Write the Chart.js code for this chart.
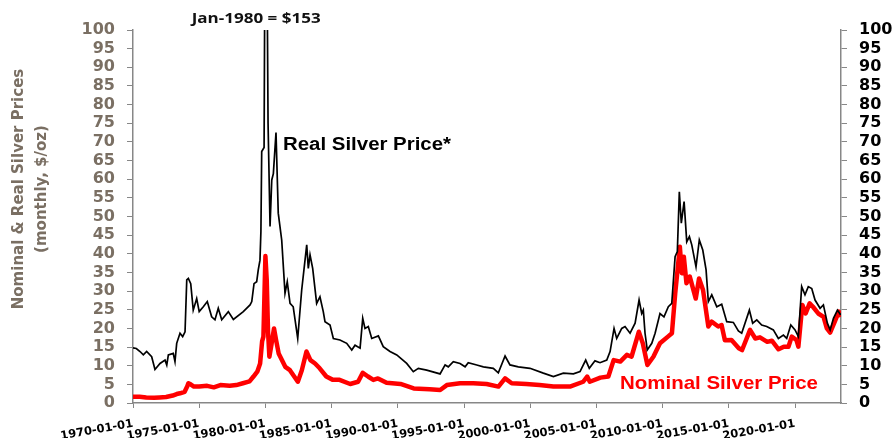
<!DOCTYPE html>
<html>
<head>
<meta charset="utf-8">
<script src="https://cdn.jsdelivr.net/npm/chart.js@4.4.1/dist/chart.umd.min.js"></script>
<style>
  html, body { margin: 0; padding: 0; background: #fff; }
</style>
</head>
<body>
<canvas id="silver" width="896" height="438"></canvas>
<script>
// monthly silver prices, $/oz (decimal years)
const realYears = [
  1970.0, 1970.25, 1970.53, 1970.78, 1971.03, 1971.41, 1971.66, 1971.8, 1972.04, 1972.42,
  1972.55, 1972.67, 1973.04, 1973.17, 1973.3, 1973.55, 1973.75, 1973.93, 1974.06, 1974.18,
  1974.36, 1974.55, 1974.81, 1975.0, 1975.31, 1975.61, 1975.94, 1976.19, 1976.44, 1976.7,
  1977.2, 1977.58, 1978.33, 1978.84, 1978.97, 1979.14, 1979.34, 1979.46, 1979.59, 1979.66,
  1979.72, 1979.9, 1980.0, 1980.1, 1980.2, 1980.35, 1980.48, 1980.6, 1980.8, 1980.97,
  1981.23, 1981.48, 1981.65, 1981.86, 1982.1, 1982.44, 1982.74, 1983.12, 1983.24, 1983.37,
  1983.57, 1983.87, 1984.12, 1984.37, 1984.5, 1984.88, 1985.13, 1985.63, 1986.14, 1986.52,
  1986.77, 1987.15, 1987.35, 1987.52, 1987.77, 1988.03, 1988.53, 1988.9, 1989.41, 1989.92,
  1990.67, 1991.17, 1991.55, 1992.18, 1993.19, 1993.57, 1993.81, 1994.19, 1994.7, 1995.08,
  1995.32, 1995.96, 1996.46, 1997.21, 1997.59, 1998.1, 1998.47, 1999.1, 1999.98, 2000.99,
  2001.75, 2002.5, 2003.26, 2003.76, 2004.19, 2004.46, 2004.89, 2005.27, 2005.78, 2006.03,
  2006.33, 2006.53, 2006.91, 2007.16, 2007.54, 2007.92, 2008.22, 2008.42, 2008.54, 2008.67,
  2008.84, 2009.18, 2009.43, 2009.8, 2010.1, 2010.43, 2010.69, 2010.94, 2011.11, 2011.26,
  2011.41, 2011.62, 2011.82, 2012.02, 2012.2, 2012.52, 2012.77, 2013.03, 2013.28, 2013.45,
  2013.71, 2014.09, 2014.46, 2014.84, 2015.34, 2015.72, 2015.97, 2016.55, 2016.8, 2017.11,
  2017.48, 2017.86, 2018.36, 2018.74, 2019.12, 2019.37, 2019.68, 2020.0, 2020.25, 2020.5,
  2020.75, 2021.0, 2021.26, 2021.51, 2021.89, 2022.14, 2022.44, 2022.65, 2022.9, 2023.2,
  2023.45
];
const realPrices = [
  14.8, 14.6, 13.8, 12.9, 13.8, 12.4, 9.0, 9.6, 10.6, 11.5,
  10.2, 12.9, 13.3, 11.1, 16.0, 18.7, 17.8, 19.1, 33.0, 33.4,
  32.0, 24.9, 28.0, 24.5, 25.8, 27.2, 23.1, 22.3, 25.4, 22.3,
  24.5, 22.4, 24.5, 26.3, 27.2, 32.0, 32.5, 35.7, 38.3, 46.0,
  67.4, 68.5, 153, 130, 75, 47.3, 59.8, 61.5, 72.5, 50.9,
  43.7, 29.4, 32.5, 26.7, 25.8, 17.3, 30.3, 42.4, 36.1, 39.7,
  36.1, 26.7, 28.5, 24.5, 21.8, 20.9, 17.3, 16.9, 16.0, 14.2,
  15.5, 14.7, 22.7, 20.0, 20.5, 17.3, 18.0, 15.1, 13.8, 12.9,
  10.6, 8.4, 9.3, 8.8, 7.8, 10.2, 9.7, 11.1, 10.6, 9.7,
  10.8, 10.2, 9.7, 9.3, 8.1, 12.6, 10.2, 9.7, 9.3, 8.0,
  7.1, 8.0, 7.8, 8.4, 11.5, 9.3, 11.3, 10.8, 11.5, 13.8,
  20.0, 17.3, 20.0, 20.5, 18.7, 21.4, 27.6, 24.0, 24.9, 18.7,
  14.2, 16.0, 18.7, 24.0, 23.1, 25.8, 26.7, 39.2, 40.6, 56.6,
  48.2, 54.0, 43.2, 44.6, 42.4, 36.5, 43.7, 41.0, 35.7, 27.2,
  29.0, 25.8, 26.5, 21.8, 21.6, 19.3, 18.7, 24.9, 21.4, 22.3,
  20.9, 20.5, 19.6, 17.3, 18.2, 17.3, 20.9, 19.6, 17.8, 31.2,
  29.0, 31.2, 30.7, 27.6, 25.4, 26.3, 21.4, 19.6, 22.7, 24.9,
  23.6
];
const nominalYears = [
  1970.0, 1970.5, 1971.0, 1971.6, 1972.0, 1972.5, 1973.0, 1973.3, 1973.55, 1973.9,
  1974.1, 1974.18, 1974.35, 1974.6, 1975.0, 1975.6, 1976.1, 1976.6, 1977.3, 1977.8,
  1978.3, 1978.8, 1979.1, 1979.4, 1979.6, 1979.75, 1979.85, 1980.0, 1980.1, 1980.2,
  1980.3, 1980.45, 1980.65, 1980.8, 1981.0, 1981.5, 1981.85, 1982.45, 1982.75, 1983.1,
  1983.4, 1983.75, 1984.1, 1984.6, 1985.1, 1985.6, 1986.4, 1987.0, 1987.35, 1987.75,
  1988.15, 1988.5, 1989.15, 1990.2, 1991.2, 1992.4, 1993.2, 1993.7, 1994.7, 1995.7,
  1996.7, 1997.6, 1998.1, 1998.6, 1999.7, 2000.7, 2001.75, 2003.0, 2004.0, 2004.3,
  2004.5, 2005.3, 2005.9, 2006.3, 2006.8, 2007.3, 2007.65, 2008.2, 2008.5, 2008.85,
  2009.3, 2009.8, 2010.4, 2010.7, 2010.95, 2011.3, 2011.45, 2011.6, 2011.8, 2012.05,
  2012.5, 2012.75, 2013.05, 2013.45, 2013.7, 2014.2, 2014.45, 2014.7, 2015.2, 2015.75,
  2016.0, 2016.6, 2017.0, 2017.35, 2017.9, 2018.25, 2018.75, 2019.15, 2019.5, 2019.75,
  2020.1, 2020.25, 2020.55, 2020.8, 2021.1, 2021.35, 2021.75, 2022.15, 2022.4, 2022.65,
  2023.0, 2023.3, 2023.45
];
const nominalPrices = [
  1.7, 1.7, 1.5, 1.4, 1.5, 1.6, 2.0, 2.4, 2.6, 3.0,
  4.5, 5.3, 5.0, 4.4, 4.4, 4.6, 4.2, 4.8, 4.6, 4.8,
  5.3, 5.8, 7.1, 8.5, 10.6, 16.5, 17.8, 39.4, 33.0, 19.0,
  12.4, 15.5, 20.0, 17.0, 13.3, 9.7, 8.8, 5.7, 8.8, 13.8,
  11.5, 10.6, 9.3, 7.1, 6.2, 6.2, 5.1, 5.7, 8.1, 7.1,
  6.2, 6.6, 5.4, 5.1, 3.9, 3.7, 3.5, 4.8, 5.3, 5.3,
  5.1, 4.4, 6.6, 5.3, 5.1, 4.8, 4.4, 4.4, 5.7, 7.1,
  5.7, 6.8, 7.1, 11.5, 11.1, 12.9, 12.4, 19.1, 16.0, 10.2,
  12.4, 16.0, 17.8, 18.7, 29.4, 41.9, 34.8, 39.2, 32.1, 33.9,
  28.0, 33.4, 30.3, 20.5, 21.8, 20.5, 20.9, 16.8, 16.9, 14.7,
  14.2, 19.6, 17.3, 17.6, 16.4, 16.7, 14.4, 15.1, 15.1, 17.8,
  16.9, 15.1, 26.3, 24.0, 26.7, 25.8, 24.0, 23.1, 20.0, 18.9,
  21.8, 24.5, 23.1
];

const axisGrey = '#878787';
const labelBrown = '#7a6f63';
const tickFont = { family: 'DejaVu Sans', weight: 'bold', size: 16 };

// free text: title and the three notes on the plot
const notes = {
  id: 'notes',
  afterDraw(chart) {
    const { ctx, scales: { x, y } } = chart;
    const put = (text, px, py, font, color, width, align) => {
      ctx.save();
      ctx.font = font;
      ctx.fillStyle = color;
      ctx.textBaseline = 'middle';
      ctx.textAlign = 'left';
      const w = ctx.measureText(text).width;
      const sx = width / w;
      const left = align === 'center' ? px - width / 2 : px;
      ctx.translate(left, py);
      ctx.scale(sx, 1);
      ctx.fillText(text, 0, 0);
      ctx.restore();
    };
    put('Jan-1980 = $153', x.getPixelForValue(1979.3), chart.chartArea.top - 11,
        'bold 14px "Open Sans"', '#111', 129, 'center');
    put('Real Silver Price*', x.getPixelForValue(1981.33), y.getPixelForValue(69.2),
        'bold 18px "Liberation Sans"', '#000', 168, 'left');
    put('Nominal Silver Price', x.getPixelForValue(2006.78), y.getPixelForValue(5.1),
        'bold 18.5px "Liberation Sans"', '#ff0000', 198, 'left');

    ctx.save();
    ctx.fillStyle = labelBrown;
    ctx.font = 'bold 15px "DejaVu Sans"';
    ctx.textAlign = 'center';
    ctx.textBaseline = 'middle';
    ctx.translate(0, 189);
    ctx.rotate(-Math.PI / 2);
    ctx.fillText('Nominal & Real Silver Prices', 0, 19);
    ctx.fillText('(monthly, $/oz)', 0, 42);
    ctx.restore();
  }
};

new Chart(document.getElementById('silver'), {
  type: 'line',
  data: {
    datasets: [
      {
        label: 'Real Silver Price*',
        data: realYears.map((yr, i) => ({ x: yr, y: realPrices[i] })),
        borderColor: '#000000',
        borderWidth: 1.7,
        pointRadius: 0,
        tension: 0,
        order: 0
      },
      {
        label: 'Nominal Silver Price',
        data: nominalYears.map((yr, i) => ({ x: yr, y: nominalPrices[i] })),
        borderColor: '#ff0000',
        borderWidth: 4.5,
        borderJoinStyle: 'round',
        pointRadius: 0,
        tension: 0,
        order: 1
      }
    ]
  },
  options: {
    responsive: false,
    animation: false,
    layout: { padding: { top: 30, right: 0, bottom: 0, left: 0 } },
    plugins: {
      legend: { display: false },
      tooltip: { enabled: false }
    },
    scales: {
      x: {
        type: 'linear',
        min: 1970,
        max: 2023.47,
        afterFit: (s) => { s.height = 35; },
        ticks: {
          stepSize: 5,
          includeBounds: false,
          autoSkip: false,
          minRotation: 10,
          maxRotation: 10,
          padding: 9,
          color: '#000',
          font: { family: 'DejaVu Sans', weight: 'bold', size: 11.5 },
          callback: (v) => v + '-01-01'
        },
        grid: { drawOnChartArea: false, tickLength: 5, color: axisGrey },
        border: { color: axisGrey, width: 1.5 }
      },
      y: {
        position: 'left',
        min: 0,
        max: 100,
        afterFit: (s) => { s.width = 133; },
        ticks: { stepSize: 5, autoSkip: false, padding: 12, color: labelBrown, font: tickFont },
        grid: { drawOnChartArea: false, tickLength: 6, color: axisGrey },
        border: { color: axisGrey, width: 1.5 }
      },
      y2: {
        position: 'right',
        min: 0,
        max: 100,
        afterFit: (s) => { s.width = 55; },
        ticks: { stepSize: 5, autoSkip: false, padding: 12, color: '#000', font: tickFont },
        grid: { drawOnChartArea: false, tickLength: 6, color: axisGrey },
        border: { color: axisGrey, width: 1.5 }
      }
    }
  },
  plugins: [notes]
});
</script>
</body>
</html>
